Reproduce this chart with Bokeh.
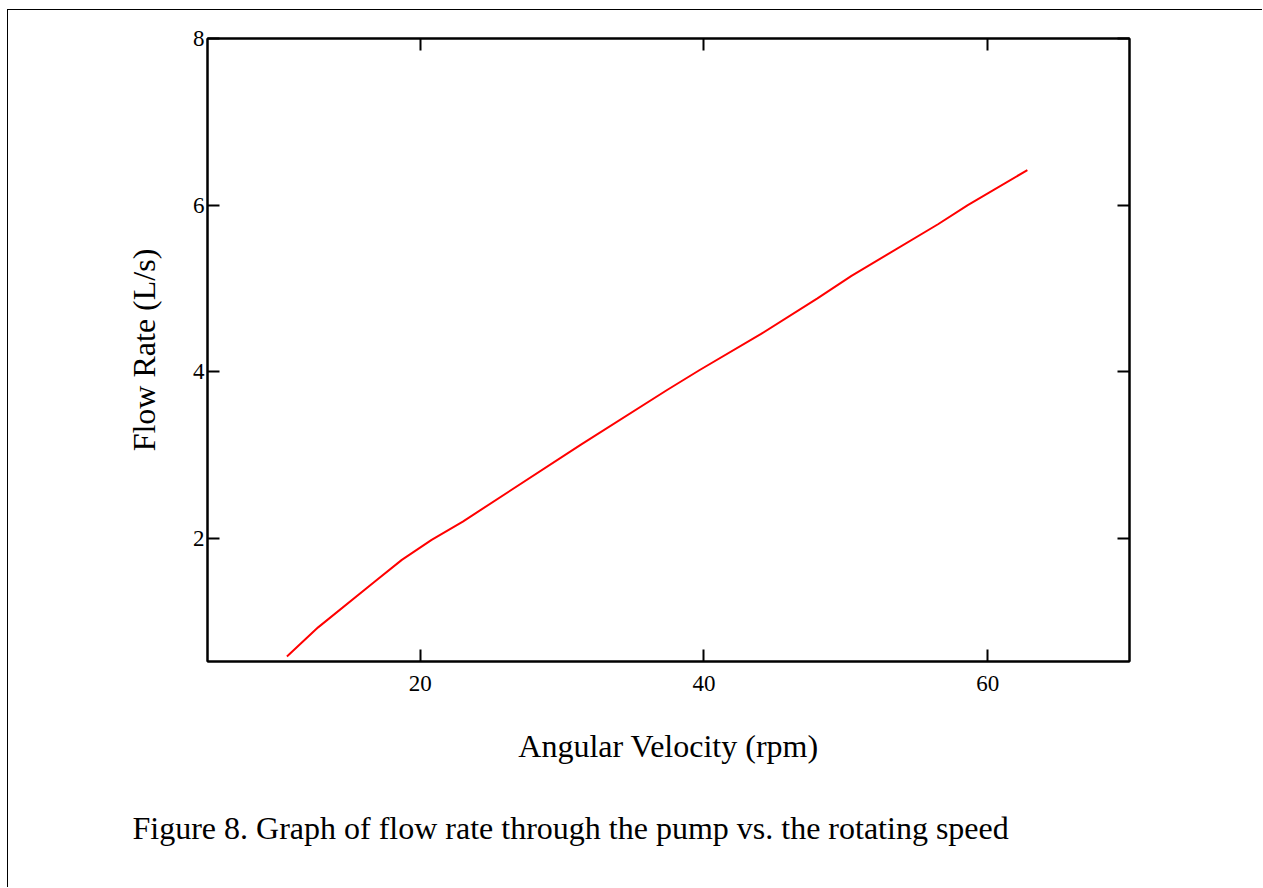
from bokeh.plotting import figure
from bokeh.models import Range1d, FixedTicker, LinearAxis, Title
from bokeh.embed import file_html
from bokeh.resources import INLINE

# Data
speed_rpm = [10.6, 12.8, 16.8, 18.7, 20.8, 23.0, 31.3, 37.4, 39.7, 44.0, 48.0, 50.4, 56.5, 58.6, 62.8]
flow_ls = [0.58, 0.93, 1.48, 1.74, 1.98, 2.20, 3.12, 3.78, 4.02, 4.45, 4.88, 5.15, 5.77, 6.00, 6.42]
x_ticks = [20, 40, 60]
y_ticks = [2, 4, 6, 8]
caption = "Figure 8. Graph of flow rate through the pump vs. the rotating speed"

FONT = "Liberation Serif"

p = figure(width=1255, height=878, output_backend="svg", toolbar_location=None,
           x_range=Range1d(5, 70), y_range=Range1d(0.52, 8),
           x_axis_type=None, y_axis_type=None,
           min_border_left=199, min_border_right=134, min_border_top=28, min_border_bottom=227)
p.styles = {"margin-left": "7px", "margin-top": "9px",
            "border-top": "1px solid black", "border-left": "1px solid black"}
p.background_fill_color = "white"
p.border_fill_color = "white"
p.grid.visible = False
p.outline_line_color = "black"
p.outline_line_width = 2

p.line(speed_rpm, flow_ls, line_color="red", line_width=2)

bottom = LinearAxis(axis_label="Angular Velocity (rpm)", ticker=FixedTicker(ticks=x_ticks))
left = LinearAxis(axis_label="Flow Rate (L/s)", ticker=FixedTicker(ticks=y_ticks))
top = LinearAxis(ticker=FixedTicker(ticks=x_ticks))
right = LinearAxis(ticker=FixedTicker(ticks=y_ticks))
p.add_layout(bottom, "below")
p.add_layout(left, "left")
p.add_layout(top, "above")
p.add_layout(right, "right")

for ax in [bottom, left, top, right]:
    ax.major_tick_in = 12
    ax.major_tick_out = 0
    ax.minor_tick_in = 0
    ax.minor_tick_out = 0
    ax.major_tick_line_width = 2
    ax.major_tick_line_color = "black"
    ax.axis_line_width = 2
    ax.axis_line_color = "black"
    ax.major_label_text_font = FONT
    ax.major_label_text_font_size = "23px"
    ax.major_label_text_color = "black"
    ax.axis_label_text_font = FONT
    ax.axis_label_text_font_size = "32px"
    ax.axis_label_text_font_style = "normal"
    ax.axis_label_text_color = "black"

for ax in [top, right]:
    ax.major_label_text_alpha = 0
    ax.major_label_text_font_size = "0px"
    ax.major_label_standoff = 0

bottom.major_label_standoff = 14
bottom.axis_label_standoff = 34
left.major_label_standoff = 3
left.axis_label_standoff = 28

cap = Title(text=caption, align="left", offset=-75, text_font=FONT, text_font_size="32px",
            text_font_style="normal", text_color="black", standoff=83)
p.add_layout(cap, "below")

open("out.html", "w").write(file_html(p, INLINE))
